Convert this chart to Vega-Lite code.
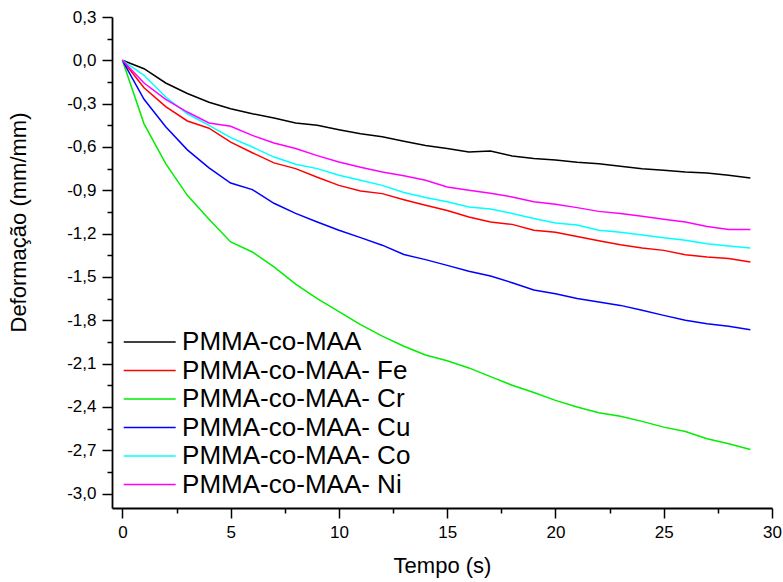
{
  "$schema": "https://vega.github.io/schema/vega-lite/v6.json",
  "width": 660,
  "height": 491,
  "autosize": {"type": "none"},
  "padding": {"left": 112, "top": 17, "right": 11, "bottom": 74},
  "background": "white",
  "config": {
    "view": {"stroke": null},
    "font": "Liberation Sans"
  },
  "datasets": {
    "wide": [
      {"t":0,"a":0,"fe":0,"cr":0,"cu":0,"co":0,"ni":0},
      {"t":1,"a":-0.058,"fe":-0.19,"cr":-0.44,"cu":-0.27,"co":-0.104,"ni":-0.157},
      {"t":2,"a":-0.157,"fe":-0.32,"cr":-0.715,"cu":-0.46,"co":-0.254,"ni":-0.27},
      {"t":3,"a":-0.23,"fe":-0.42,"cr":-0.935,"cu":-0.62,"co":-0.37,"ni":-0.358},
      {"t":4,"a":-0.29,"fe":-0.47,"cr":-1.10,"cu":-0.745,"co":-0.45,"ni":-0.434},
      {"t":5,"a":-0.335,"fe":-0.566,"cr":-1.258,"cu":-0.85,"co":-0.535,"ni":-0.457},
      {"t":6,"a":-0.37,"fe":-0.64,"cr":-1.327,"cu":-0.895,"co":-0.60,"ni":-0.52},
      {"t":7,"a":-0.40,"fe":-0.71,"cr":-1.43,"cu":-0.99,"co":-0.67,"ni":-0.573},
      {"t":8,"a":-0.434,"fe":-0.75,"cr":-1.55,"cu":-1.06,"co":-0.72,"ni":-0.61},
      {"t":9,"a":-0.45,"fe":-0.81,"cr":-1.65,"cu":-1.12,"co":-0.75,"ni":-0.66},
      {"t":10,"a":-0.48,"fe":-0.866,"cr":-1.74,"cu":-1.177,"co":-0.796,"ni":-0.704},
      {"t":11,"a":-0.508,"fe":-0.905,"cr":-1.83,"cu":-1.228,"co":-0.83,"ni":-0.74},
      {"t":12,"a":-0.53,"fe":-0.923,"cr":-1.91,"cu":-1.28,"co":-0.866,"ni":-0.773},
      {"t":13,"a":-0.56,"fe":-0.965,"cr":-1.98,"cu":-1.345,"co":-0.915,"ni":-0.80},
      {"t":14,"a":-0.59,"fe":-1.004,"cr":-2.04,"cu":-1.38,"co":-0.95,"ni":-0.83},
      {"t":15,"a":-0.61,"fe":-1.04,"cr":-2.08,"cu":-1.42,"co":-0.98,"ni":-0.877},
      {"t":16,"a":-0.635,"fe":-1.085,"cr":-2.13,"cu":-1.46,"co":-1.016,"ni":-0.90},
      {"t":17,"a":-0.628,"fe":-1.12,"cr":-2.19,"cu":-1.494,"co":-1.03,"ni":-0.92},
      {"t":18,"a":-0.663,"fe":-1.136,"cr":-2.25,"cu":-1.54,"co":-1.06,"ni":-0.946},
      {"t":19,"a":-0.68,"fe":-1.177,"cr":-2.30,"cu":-1.59,"co":-1.096,"ni":-0.98},
      {"t":20,"a":-0.69,"fe":-1.19,"cr":-2.355,"cu":-1.616,"co":-1.127,"ni":-0.997},
      {"t":21,"a":-0.705,"fe":-1.22,"cr":-2.40,"cu":-1.65,"co":-1.14,"ni":-1.02},
      {"t":22,"a":-0.716,"fe":-1.25,"cr":-2.44,"cu":-1.674,"co":-1.177,"ni":-1.046},
      {"t":23,"a":-0.734,"fe":-1.277,"cr":-2.465,"cu":-1.697,"co":-1.19,"ni":-1.06},
      {"t":24,"a":-0.75,"fe":-1.30,"cr":-2.50,"cu":-1.73,"co":-1.21,"ni":-1.08},
      {"t":25,"a":-0.762,"fe":-1.316,"cr":-2.54,"cu":-1.766,"co":-1.228,"ni":-1.10},
      {"t":26,"a":-0.773,"fe":-1.346,"cr":-2.57,"cu":-1.80,"co":-1.246,"ni":-1.12},
      {"t":27,"a":-0.78,"fe":-1.362,"cr":-2.62,"cu":-1.824,"co":-1.27,"ni":-1.15},
      {"t":28,"a":-0.796,"fe":-1.373,"cr":-2.655,"cu":-1.842,"co":-1.286,"ni":-1.172},
      {"t":29,"a":-0.815,"fe":-1.397,"cr":-2.695,"cu":-1.865,"co":-1.30,"ni":-1.172}
    ]
  },
  "data": {"name": "wide"},
  "transform": [
    {"fold": ["a", "fe", "cr", "cu", "co", "ni"], "as": ["key", "v"]},
    {"lookup": "key", "from": {"data": {"values": [
      {"key": "a", "serie": "PMMA-co-MAA"},
      {"key": "fe", "serie": "PMMA-co-MAA- Fe"},
      {"key": "cr", "serie": "PMMA-co-MAA- Cr"},
      {"key": "cu", "serie": "PMMA-co-MAA- Cu"},
      {"key": "co", "serie": "PMMA-co-MAA- Co"},
      {"key": "ni", "serie": "PMMA-co-MAA- Ni"}
    ]}, "key": "key", "fields": ["serie"]}}
  ],
  "mark": {"type": "line", "strokeWidth": 1.5, "clip": true},
  "encoding": {
    "x": {
      "field": "t", "type": "quantitative",
      "scale": {"domain": [-0.48, 30], "nice": false, "zero": false},
      "axis": {
        "title": "Tempo (s)",
        "titleFont": "Liberation Sans", "titleFontSize": 22, "titleFontWeight": "normal", "titleColor": "black",
        "titlePadding": 15,
        "values": [0, 2.5, 5, 7.5, 10, 12.5, 15, 17.5, 20, 22.5, 25, 27.5, 30],
        "labelExpr": "datum.value % 5 == 0 ? format(datum.value, 'd') : ''",
        "labelFont": "Liberation Sans", "labelFontSize": 17, "labelColor": "black",
        "labelPadding": 6, "labelFlush": false, "labelOverlap": false,
        "domainColor": "black", "domainWidth": 1.8,
        "tickColor": "black", "tickWidth": 1.5,
        "tickSize": {"condition": {"test": "datum.value % 5 == 0", "value": 10}, "value": 5},
        "grid": false
      }
    },
    "y": {
      "field": "v", "type": "quantitative",
      "scale": {"domain": [-3.1, 0.3], "nice": false, "zero": false},
      "axis": {
        "title": "Deformação (mm/mm)",
        "titleFont": "Liberation Sans", "titleFontSize": 22, "titleFontWeight": "normal", "titleColor": "black",
        "titlePadding": 36,
        "titleY": 205,
        "values": [-3.0, -2.85, -2.7, -2.55, -2.4, -2.25, -2.1, -1.95, -1.8, -1.65, -1.5, -1.35, -1.2, -1.05, -0.9, -0.75, -0.6, -0.45, -0.3, -0.15, 0, 0.15, 0.3],
        "labelExpr": "abs(datum.value/0.3 - round(datum.value/0.3)) < 0.01 ? ((datum.value < -0.001 ? '-' : '') + replace(format(abs(datum.value), '.1f'), '.', ',')) : ''",
        "labelFont": "Liberation Sans", "labelFontSize": 17, "labelColor": "black",
        "labelPadding": 6, "labelFlush": false, "labelOverlap": false,
        "domainColor": "black", "domainWidth": 1.8,
        "tickColor": "black", "tickWidth": 1.5,
        "tickSize": {"condition": {"test": "abs(datum.value/0.3 - round(datum.value/0.3)) < 0.01", "value": 10}, "value": 5},
        "grid": false
      }
    },
    "color": {
      "field": "serie", "type": "nominal",
      "scale": {
        "domain": ["PMMA-co-MAA", "PMMA-co-MAA- Fe", "PMMA-co-MAA- Cr", "PMMA-co-MAA- Cu", "PMMA-co-MAA- Co", "PMMA-co-MAA- Ni"],
        "range": ["#000000", "#ff0000", "#00ee00", "#0000ff", "#00ffff", "#ff00ff"]
      },
      "legend": {
        "title": null,
        "orient": "none",
        "legendX": 24.7,
        "legendY": 312,
        "padding": 0,
        "symbolType": "M-3,0H3",
        "symbolSize": 300,
        "symbolStrokeWidth": 1.5,
        "labelFont": "Liberation Sans",
        "labelFontSize": 26,
        "labelColor": "black",
        "labelOffset": 19.4,
        "rowPadding": 2.5,
        "labelLimit": 400
      }
    }
  }
}
